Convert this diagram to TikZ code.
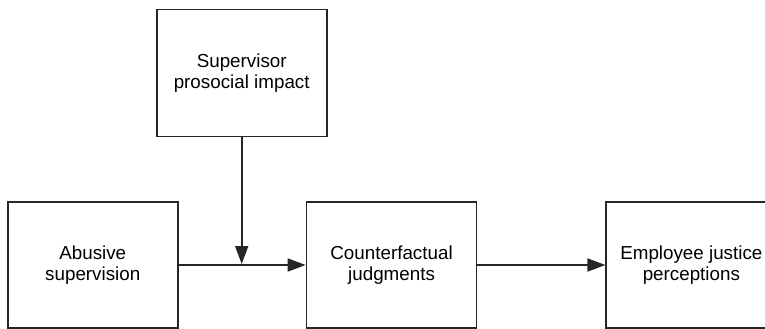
\documentclass[tikz,border=0pt]{standalone}
\usepackage{fontspec}
\setmainfont{Liberation Sans}
\usetikzlibrary{positioning, arrows.meta}

\begin{document}
\begin{tikzpicture}[x=1pt, y=1pt, node distance=127pt and 127pt, box/.style={draw=black!85, line width=1.8pt, align=center, minimum width=170pt, minimum height=126pt, inner sep=0pt, font=\fontsize{18.8}{21.6}\selectfont}, arrow/.style={-{Triangle[length=18pt, width=13pt]}, line width=1.8pt, draw=black!85}]
      \node[box] (abusive) at (92.75,-265) {Abusive\\supervision};
      \node[box, right=of abusive] (counter) {Counterfactual\\judgments};
      \node[box, right=128pt of counter] (justice) {Employee justice\\perceptions};
      \node[box, minimum height=127pt] (impact) at (241.7,-73) {Supervisor\\prosocial impact};
      \coordinate (join) at (impact.south |- abusive.east);

      \draw[arrow] (abusive) -- (counter); \draw[arrow] (counter) --
      (justice); \draw[arrow, shorten >=1pt] (impact) -- (join);
      \pgfresetboundingbox
      \useasboundingbox (0,0) rectangle (765,-329);
    \end{tikzpicture}
\end{document}
